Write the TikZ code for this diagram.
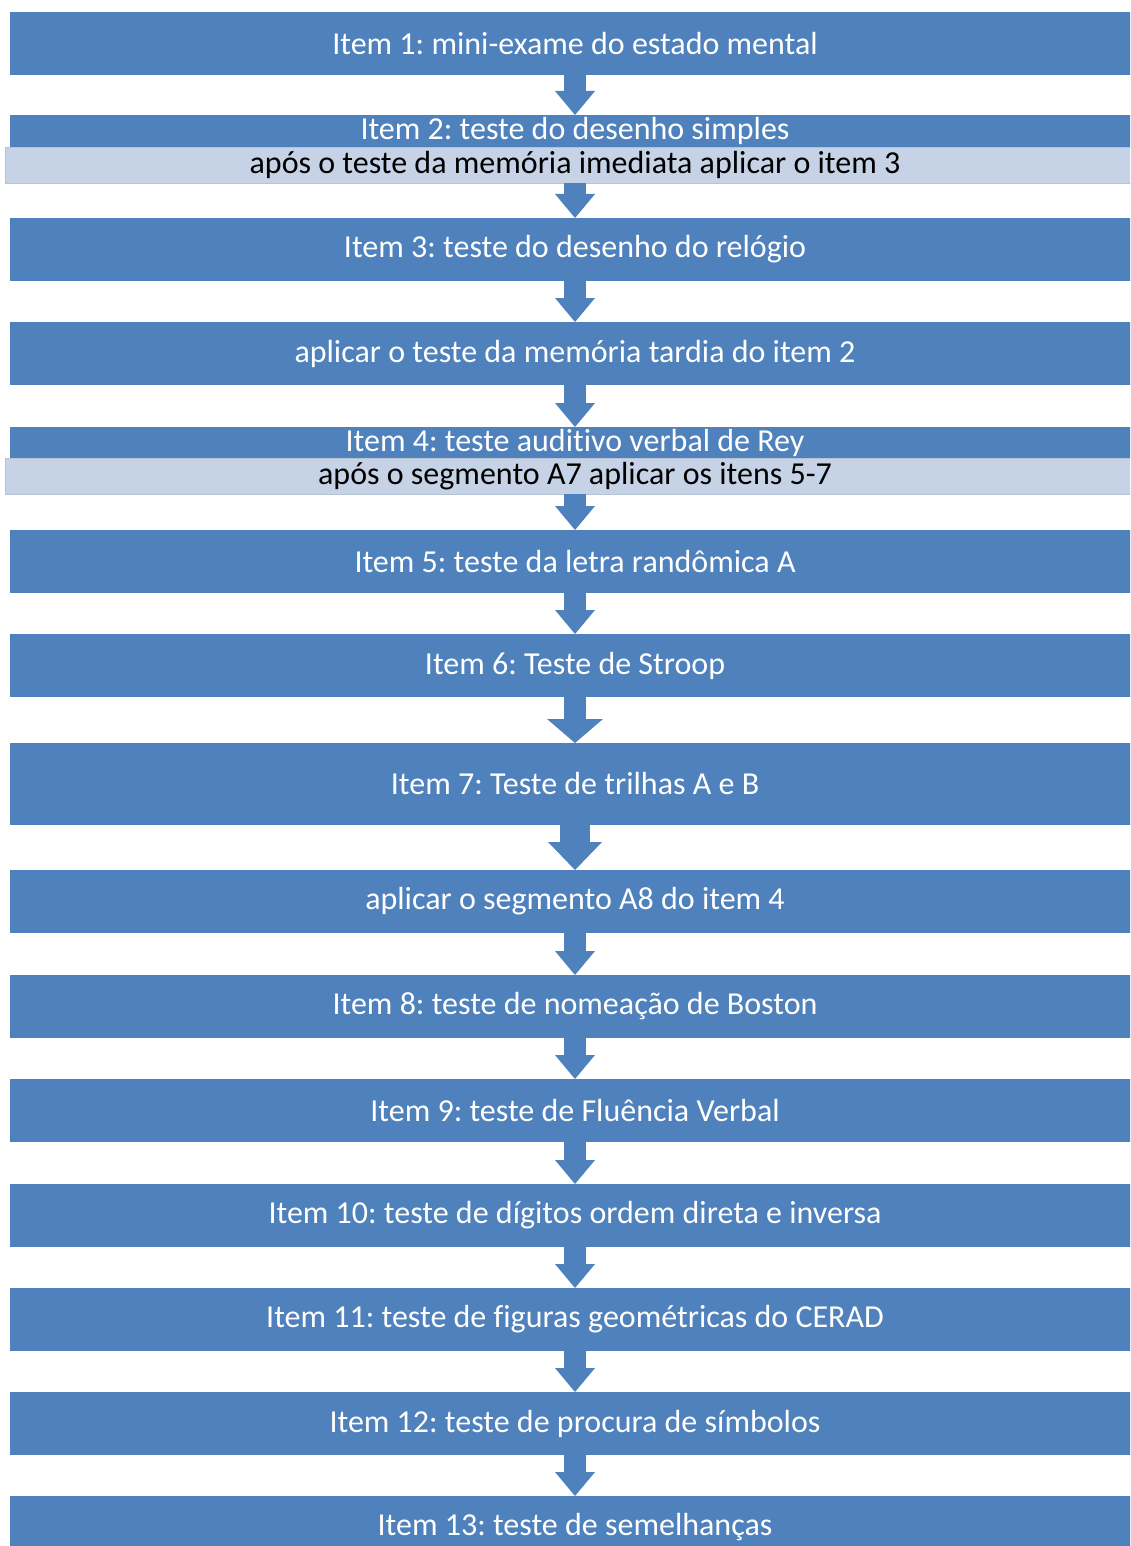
\documentclass[tikz,border=0pt]{standalone}
\usepackage{fontspec}
\setmainfont{Carlito}[Ligatures=NoCommon]
\usetikzlibrary{positioning}
\usetikzlibrary{arrows.meta}

\definecolor{stepblue}{RGB}{79,129,189}
\definecolor{notebar}{RGB}{198,210,229}
\definecolor{noteedge}{RGB}{182,194,214}

\tikzset{
  item/.style={rectangle, fill=stepblue, text=white, minimum width=565pt,
    minimum height=31.5pt, inner sep=0pt, outer sep=0pt,
    font=\fontsize{16}{18}\selectfont\frenchspacing},
  itemtop/.style={item, minimum height=16pt},
  note/.style={rectangle, fill=notebar, draw=noteedge, line width=0.4pt, text=black,
    minimum width=570pt, minimum height=18pt, inner sep=0pt, outer sep=0pt,
    font=\fontsize{16}{18}\selectfont\frenchspacing},
  flow/.style={draw=stepblue, line width=11pt, -{Triangle[width=20pt,length=12pt,line width=0pt]}},
  wideflow/.style={flow, -{Triangle[width=28pt,length=12pt,line width=0pt]}},
  bigflow/.style={flow, line width=15pt, -{Triangle[width=27pt,length=14pt,line width=0pt]}}
}

\begin{document}
\begin{tikzpicture}[node distance=20.5pt]
    \useasboundingbox (0,0) rectangle (565pt,-773pt);
    \clip (0,0) rectangle (565pt,-773pt);

    \node[item, anchor=north] (b1) at (287.5pt,-6pt) {Item 1: mini-exame do estado mental};
    \node[itemtop, below=20pt of b1] (b2) {Item 2: teste do desenho simples};
    \node[note, below=0pt of b2] (n2) {após o teste da memória imediata aplicar o item 3};
    \node[item, below=17.5pt of n2] (b3) {Item 3: teste do desenho do relógio};
    \node[item, below=of b3] (b4) {aplicar o teste da memória tardia do item 2};
    \node[itemtop, below=21pt of b4, minimum height=15.5pt] (b5) {Item 4: teste auditivo verbal de Rey};
    \node[note, below=0pt of b5] (n5) {após o segmento A7 aplicar os itens 5-7};
    \node[item, below=18pt of n5] (b6) {Item 5: teste da letra randômica A};
    \node[item, below=of b6] (b7) {Item 6: Teste de Stroop};
    \node[item, below=23pt of b7, minimum height=41pt] (b8) {Item 7: Teste de trilhas A e B};
    \node[item, below=22.5pt of b8] (b9) {aplicar o segmento A8 do item 4};
    \node[item, below=21pt of b9] (b10) {Item 8: teste de nomeação de Boston};
    \node[item, below=20.5pt of b10] (b11) {Item 9: teste de Fluência Verbal};
    \node[item, below=21pt of b11] (b12) {Item 10: teste de dígitos ordem direta e inversa};
    \node[item, below=of b12] (b13) {Item 11: teste de figuras geométricas do CERAD};
    \node[item, below=of b13] (b14) {Item 12: teste de procura de símbolos};
    \node[item, below=20.5pt of b14] (b15) {Item 13: teste de semelhanças};

    % setas entre os passos
    \draw[flow] (b1) -- (b2);
    \draw[flow] (n2) -- (b3);
    \draw[flow] (b3) -- (b4);
    \draw[flow] (b4) -- (b5);
    \draw[flow] (n5) -- (b6);
    \draw[flow] (b6) -- (b7);
    \draw[wideflow] (b7) -- (b8);
    \draw[bigflow] (b8) -- (b9);
    \draw[flow] (b9) -- (b10);
    \draw[flow] (b10) -- (b11);
    \draw[flow] (b11) -- (b12);
    \draw[flow] (b12) -- (b13);
    \draw[flow] (b13) -- (b14);
    \draw[flow] (b14) -- (b15);
\end{tikzpicture}
\end{document}
